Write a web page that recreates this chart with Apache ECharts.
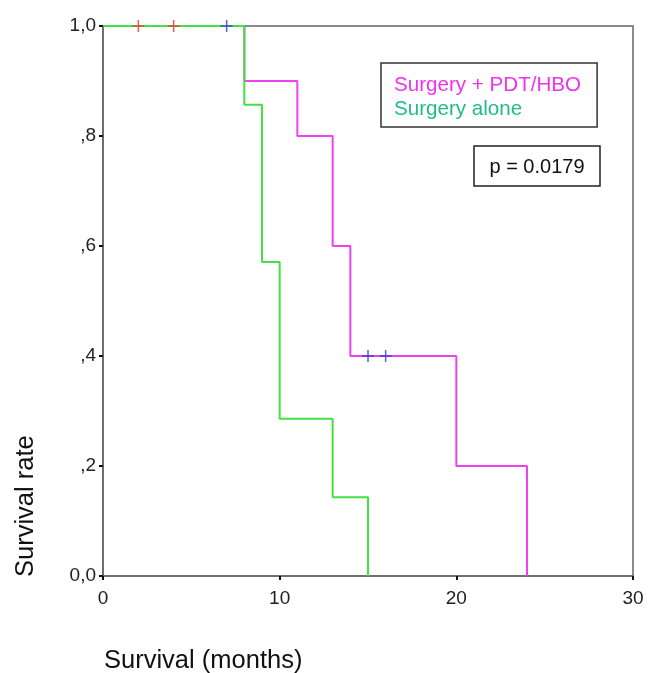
<!DOCTYPE html>
<html>
<head>
<meta charset="utf-8">
<script src="https://cdn.jsdelivr.net/npm/echarts@6/dist/echarts.min.js"></script>
<style>
  html, body { margin: 0; padding: 0; background: #fff; }
  #km { width: 648px; height: 673px; }
</style>
</head>
<body>
<div id="km"></div>
<script>
// Kaplan-Meier data
var groupNames = ['Surgery + PDT/HBO', 'Surgery alone'];
var pdtTimes = [0, 8, 11, 13, 14, 20, 24];
var pdtSurv = [1, 0.9, 0.8, 0.6, 0.4, 0.2, 0];
var aloneTimes = [0, 8, 9, 10, 13, 15];
var aloneSurv = [1, 0.857, 0.571, 0.286, 0.143, 0];
// censored cases
var pdtCensorTimes = [7, 15, 16];
var pdtCensorSurv = [1, 0.4, 0.4];
var aloneCensorTimes = [2, 4];
var aloneCensorSurv = [1, 1];
var yTickLabels = ['0,0', ',2', ',4', ',6', ',8', '1,0'];
var pText = 'p = 0.0179';

function pairs(xs, ys) {
    return xs.map(function (x, i) { return [x, ys[i]]; });
}

var plus = 'path://M5.25,0h1.5v12h-1.5z M0,5.25h12v1.5h-12z';
var font = 'Liberation Sans, Arial, Helvetica, sans-serif';

var myChart = echarts.init(document.getElementById('km'));
myChart.setOption({
    animation: false,
    backgroundColor: '#fff',
    grid: {
        left: 103, right: 15, top: 26, bottom: 97,
        show: true, borderColor: '#666', borderWidth: 1.5
    },
    legend: {
        orient: 'vertical',
        left: 381, top: 63,
        padding: [11, 16, 7, 8],
        borderColor: '#333', borderWidth: 1.5,
        icon: 'none',
        itemWidth: 0, itemHeight: 22, itemGap: 3,
        data: [
            { name: groupNames[0], textStyle: { color: '#ee33ee' } },
            { name: groupNames[1], textStyle: { color: '#22bb88' } }
        ],
        textStyle: { fontFamily: font, fontSize: 20.6 }
    },
    xAxis: {
        type: 'value', min: 0, max: 30, interval: 10,
        splitLine: { show: false },
        axisLine: { lineStyle: { color: '#666', width: 1.5 } },
        axisTick: { length: 4, lineStyle: { color: '#111', width: 2 } },
        axisLabel: { color: '#222', fontFamily: font, fontSize: 19, margin: 13 }
    },
    yAxis: {
        type: 'value', min: 0, max: 1, interval: 0.2,
        splitLine: { show: false },
        axisLine: { lineStyle: { color: '#666', width: 1.5 } },
        axisTick: { length: 4, lineStyle: { color: '#111', width: 2 } },
        axisLabel: {
            color: '#222', fontFamily: font, fontSize: 19, margin: 7,
            formatter: function (v) { return yTickLabels[Math.round(v * 5)]; }
        }
    },
    graphic: [
        {
            type: 'text', x: 26, y: 577, rotation: Math.PI / 2,
            style: {
                text: 'Survival rate', fill: '#111', font: '25.5px ' + font,
                textAlign: 'left', textVerticalAlign: 'middle'
            }
        },
        {
            type: 'text', x: 104, y: 661,
            style: {
                text: 'Survival (months)', fill: '#111', font: '25.5px ' + font,
                textAlign: 'left', textVerticalAlign: 'middle'
            }
        },
        {
            type: 'rect', shape: { x: 474, y: 146, width: 126, height: 40 },
            style: { fill: '#fff', stroke: '#222', lineWidth: 1.5 }
        },
        {
            type: 'text', x: 537, y: 167,
            style: {
                text: pText, fill: '#111', font: '20px ' + font,
                textAlign: 'center', textVerticalAlign: 'middle'
            }
        }
    ],
    series: [
        {
            name: groupNames[0], type: 'line', step: 'end',
            data: pairs(pdtTimes, pdtSurv),
            showSymbol: false, symbol: 'none',
            itemStyle: { color: '#ee33ee' },
            lineStyle: { color: '#f040f0', width: 2 }
        },
        {
            name: groupNames[1], type: 'line', step: 'end',
            data: pairs(aloneTimes, aloneSurv),
            showSymbol: false, symbol: 'none',
            itemStyle: { color: '#22bb88' },
            lineStyle: { color: '#44e044', width: 2 }
        },
        {
            type: 'scatter', symbol: plus, symbolSize: 12, z: 5,
            data: pairs(pdtCensorTimes, pdtCensorSurv),
            itemStyle: { color: '#3333dd' }
        },
        {
            type: 'scatter', symbol: plus, symbolSize: 12, z: 5,
            data: pairs(aloneCensorTimes, aloneCensorSurv),
            itemStyle: { color: '#ee3333' }
        }
    ]
});
</script>
</body>
</html>
